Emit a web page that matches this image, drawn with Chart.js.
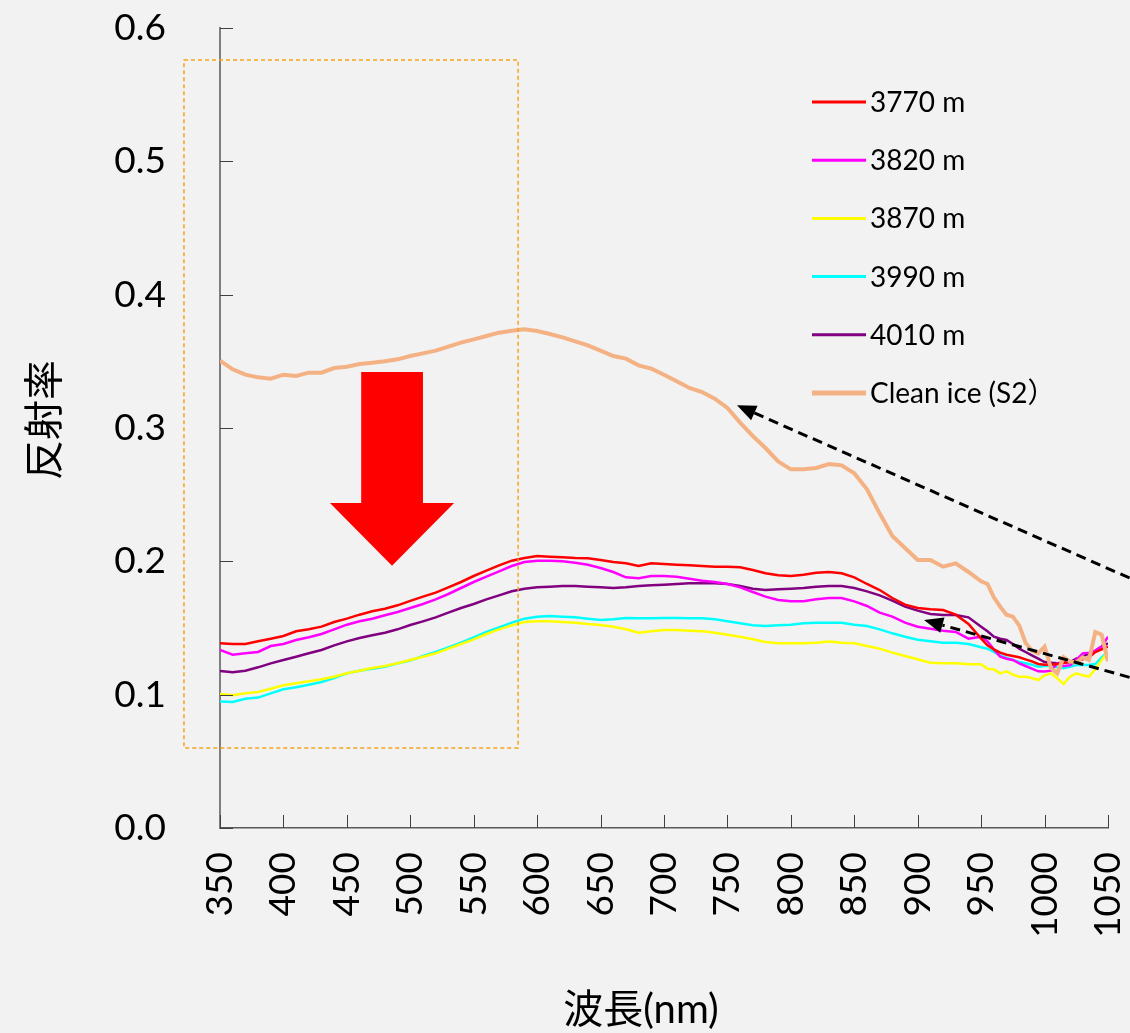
<!DOCTYPE html>
<html>
<head>
<meta charset="utf-8">
<script src="https://cdn.jsdelivr.net/npm/chart.js@4.4.1/dist/chart.umd.min.js"></script>
<style>
    html, body { margin: 0; padding: 0; background: #f2f2f2; }
    #wrap { width: 1130px; height: 1033px; position: relative; }
</style>
</head>
<body>
<div id="wrap"><canvas id="spectraChart"></canvas></div>
<script>
// Wavelength samples (nm)
const wavelengths = [350, 360, 370, 380, 390, 400, 410, 420, 430, 440,
    450, 460, 470, 480, 490, 500, 510, 520, 530, 540,
    550, 560, 570, 580, 590, 600, 610, 620, 630, 640,
    650, 660, 670, 680, 690, 700, 710, 720, 730, 740,
    750, 760, 770, 780, 790, 800, 810, 820, 830, 840,
    850, 860, 870, 880, 890, 900, 910, 920, 930, 940,
    950, 955, 960, 965, 970, 975, 980, 985, 990, 995,
    1000, 1005, 1010, 1015, 1020, 1025, 1030, 1035, 1040, 1045, 1050];

// Reflectance per site
const r3770 = [0.1385, 0.138, 0.138, 0.140, 0.142, 0.144, 0.1475, 0.149, 0.151, 0.1545,
    0.157, 0.160, 0.1625, 0.1645, 0.167, 0.1703, 0.1735, 0.1765, 0.1805, 0.1845,
    0.189, 0.193, 0.197, 0.2005, 0.2025, 0.204, 0.2035, 0.203, 0.2025, 0.2023,
    0.201, 0.1995, 0.1985, 0.1965, 0.1985, 0.198, 0.1975, 0.197, 0.1965, 0.196,
    0.196, 0.1955, 0.1935, 0.191, 0.1895, 0.189, 0.190, 0.1915, 0.192, 0.191,
    0.188, 0.183, 0.1785, 0.1725, 0.1675, 0.165, 0.164, 0.1635, 0.160, 0.153,
    0.142, 0.137, 0.134, 0.1315, 0.130, 0.129, 0.128, 0.1265, 0.125, 0.123,
    0.1225, 0.1225, 0.123, 0.124, 0.1245, 0.125, 0.1265, 0.128, 0.132, 0.134, 0.136];

const r3820 = [0.1335, 0.130, 0.131, 0.132, 0.1365, 0.138, 0.141, 0.143, 0.1455, 0.149,
    0.1525, 0.155, 0.157, 0.1595, 0.162, 0.165, 0.168, 0.1715, 0.1755, 0.180,
    0.1845, 0.1885, 0.1925, 0.1965, 0.1995, 0.2005, 0.2005, 0.200, 0.199, 0.1975,
    0.195, 0.192, 0.188, 0.1873, 0.189, 0.189, 0.1885, 0.187, 0.1855, 0.1845,
    0.183, 0.1805, 0.177, 0.1735, 0.171, 0.170, 0.170, 0.1715, 0.1725, 0.1725,
    0.170, 0.1665, 0.1615, 0.1585, 0.154, 0.151, 0.1495, 0.148, 0.147, 0.142,
    0.1435, 0.140, 0.134, 0.1285, 0.127, 0.126, 0.1235, 0.1215, 0.1195, 0.1175,
    0.1173, 0.118, 0.1235, 0.1215, 0.122, 0.126, 0.131, 0.1315, 0.133, 0.136, 0.1435];

const r3870 = [0.1005, 0.0995, 0.101, 0.102, 0.1045, 0.107, 0.1085, 0.110, 0.1115, 0.1135,
    0.116, 0.118, 0.120, 0.1215, 0.1235, 0.126, 0.1285, 0.131, 0.1345, 0.138,
    0.1415, 0.1455, 0.149, 0.152, 0.1545, 0.155, 0.155, 0.1545, 0.154, 0.153,
    0.1523, 0.151, 0.149, 0.1465, 0.1475, 0.1485, 0.1485, 0.148, 0.1475, 0.1465,
    0.145, 0.1435, 0.1415, 0.1395, 0.1385, 0.1385, 0.1385, 0.139, 0.1398, 0.139,
    0.1385, 0.1365, 0.1345, 0.1315, 0.129, 0.1265, 0.124, 0.1235, 0.1235, 0.1228,
    0.1228, 0.1195, 0.119, 0.116, 0.1175, 0.115, 0.1135, 0.1135, 0.1125, 0.111,
    0.1145, 0.116, 0.1123, 0.108, 0.1135, 0.116, 0.1145, 0.1135, 0.119, 0.126, 0.1323];

const r3990 = [0.0948, 0.0945, 0.097, 0.0978, 0.101, 0.104, 0.1055, 0.1075, 0.1095, 0.1125,
    0.116, 0.118, 0.1195, 0.121, 0.1235, 0.1255, 0.129, 0.132, 0.1355, 0.139,
    0.143, 0.147, 0.1505, 0.154, 0.157, 0.1585, 0.159, 0.1585, 0.158, 0.157,
    0.156, 0.1565, 0.1575, 0.1573, 0.1573, 0.1575, 0.1575, 0.1573, 0.1573, 0.1565,
    0.155, 0.1535, 0.152, 0.1515, 0.152, 0.1525, 0.1535, 0.154, 0.154, 0.154,
    0.1525, 0.1515, 0.149, 0.146, 0.1435, 0.1412, 0.140, 0.139, 0.139, 0.138,
    0.1355, 0.1345, 0.132, 0.1295, 0.1275, 0.126, 0.1245, 0.1235, 0.1225, 0.121,
    0.1215, 0.1215, 0.1205, 0.1198, 0.121, 0.1223, 0.1223, 0.1223, 0.123, 0.128, 0.1323];

const r4010 = [0.1178, 0.1168, 0.118, 0.1205, 0.1235, 0.126, 0.1285, 0.131, 0.1335, 0.137,
    0.140, 0.1425, 0.1445, 0.1465, 0.149, 0.1522, 0.155, 0.158, 0.1615, 0.165,
    0.168, 0.1715, 0.1745, 0.1775, 0.1795, 0.1805, 0.181, 0.1815, 0.1815, 0.181,
    0.1805, 0.180, 0.1805, 0.1815, 0.182, 0.1825, 0.183, 0.1835, 0.1835, 0.1835,
    0.183, 0.1815, 0.1795, 0.1785, 0.179, 0.1795, 0.180, 0.181, 0.1815, 0.1815,
    0.180, 0.1775, 0.1745, 0.1705, 0.166, 0.163, 0.1605, 0.1598, 0.1598, 0.158,
    0.151, 0.1475, 0.1435, 0.142, 0.141, 0.138, 0.1345, 0.132, 0.1295, 0.127,
    0.1245, 0.124, 0.1235, 0.124, 0.1245, 0.127, 0.1285, 0.131, 0.133, 0.136, 0.1385];

const rCleanIce = [0.3505, 0.344, 0.340, 0.338, 0.337, 0.340, 0.339, 0.3415, 0.3415, 0.345,
    0.346, 0.348, 0.349, 0.350, 0.3515, 0.354, 0.356, 0.358, 0.361, 0.364,
    0.3665, 0.369, 0.3715, 0.373, 0.374, 0.3728, 0.3705, 0.368, 0.365, 0.362,
    0.358, 0.354, 0.352, 0.347, 0.3445, 0.340, 0.335, 0.330, 0.327, 0.322,
    0.315, 0.304, 0.294, 0.285, 0.275, 0.269, 0.269, 0.270, 0.273, 0.272,
    0.266, 0.254, 0.236, 0.219, 0.210, 0.201, 0.201, 0.196, 0.1985, 0.192,
    0.185, 0.183, 0.173, 0.166, 0.160, 0.1585, 0.152, 0.139, 0.133, 0.131,
    0.136, 0.120, 0.116, 0.128, 0.125, 0.124, 0.128, 0.126, 0.147, 0.145, 0.125];

const seriesLabels = ['3770 m', '3820 m', '3870 m', '3990 m', '4010 m', 'Clean ice (S2）'];
const seriesColors = ['#ff0000', '#ff00ff', '#ffff00', '#00ffff', '#800080', '#f4b183'];
const seriesValues = [r3770, r3820, r3870, r3990, r4010, rCleanIce];

const xTicks = [350, 400, 450, 500, 550, 600, 650, 700, 750, 800, 850, 900, 950, 1000, 1050];
const yTicks = [0, 0.1, 0.2, 0.3, 0.4, 0.5, 0.6];

const FONT = 'Lato, "Noto Sans CJK JP", sans-serif';

// Extra drawing: inner tick marks, highlight box, arrows, legend, axis titles
const decorations = {
    id: 'decorations',
    afterDraw(chart) {
        const ctx = chart.ctx;
        const xs = chart.scales.x;
        const ys = chart.scales.y;
        const area = chart.chartArea;
        const px = v => xs.getPixelForValue(v);
        const py = v => ys.getPixelForValue(v);

        ctx.save();

        // tick marks pointing into the plot
        ctx.strokeStyle = '#404040';
        ctx.lineWidth = 1;
        xTicks.forEach(t => {
            const x = Math.round(px(t)) + 0.5;
            ctx.beginPath();
            ctx.moveTo(x, area.bottom);
            ctx.lineTo(x, area.bottom - 13);
            ctx.stroke();
        });
        yTicks.forEach(t => {
            const y = Math.round(py(t)) + 0.5;
            ctx.beginPath();
            ctx.moveTo(area.left, y);
            ctx.lineTo(area.left + 13, y);
            ctx.stroke();
        });

        // dashed orange box around the visible range
        ctx.strokeStyle = '#f5a31a';
        ctx.lineWidth = 1.5;
        ctx.setLineDash([4, 3]);
        const bx1 = px(321.6), bx2 = px(585), by1 = py(0.576), by2 = py(0.06);
        ctx.strokeRect(bx1, by1, bx2 - bx1, by2 - by1);
        ctx.setLineDash([]);

        // big red arrow
        const cx = px(485.6);
        ctx.fillStyle = '#ff0000';
        ctx.beginPath();
        ctx.moveTo(px(461.3), py(0.342));
        ctx.lineTo(px(510), py(0.342));
        ctx.lineTo(px(510), py(0.2438));
        ctx.lineTo(px(534.5), py(0.2438));
        ctx.lineTo(cx, py(0.1967));
        ctx.lineTo(px(436.7), py(0.2438));
        ctx.lineTo(px(461.3), py(0.2438));
        ctx.closePath();
        ctx.fill();

        // dashed pointer arrows
        function pointer(fromX, fromY, toX, toY) {
            const x1 = px(fromX), y1 = py(fromY), x2 = px(toX), y2 = py(toY);
            const ang = Math.atan2(y2 - y1, x2 - x1);
            const headLen = 19, headW = 8;
            const bx = x2 - headLen * Math.cos(ang), by = y2 - headLen * Math.sin(ang);
            ctx.strokeStyle = '#000000';
            ctx.lineWidth = 3;
            ctx.setLineDash([10, 6]);
            ctx.beginPath();
            ctx.moveTo(x1, y1);
            ctx.lineTo(bx, by);
            ctx.stroke();
            ctx.setLineDash([]);
            ctx.fillStyle = '#000000';
            ctx.beginPath();
            ctx.moveTo(x2, y2);
            ctx.lineTo(bx + headW * Math.sin(ang), by - headW * Math.cos(ang));
            ctx.lineTo(bx - headW * Math.sin(ang), by + headW * Math.cos(ang));
            ctx.closePath();
            ctx.fill();
        }
        pointer(1067, 0.1875, 757.5, 0.317);
        pointer(1067, 0.113, 905, 0.156);

        // legend
        ctx.font = '28px ' + FONT;
        ctx.textBaseline = 'middle';
        ctx.textAlign = 'left';
        seriesLabels.forEach((label, i) => {
            const y = 102 + i * 58.2;
            ctx.strokeStyle = seriesColors[i];
            ctx.lineWidth = i === 5 ? 5 : 3;
            ctx.beginPath();
            ctx.moveTo(812, y);
            ctx.lineTo(866, y);
            ctx.stroke();
            ctx.fillStyle = '#000000';
            ctx.fillText(label, 870, y + 1);
        });

        // axis titles
        ctx.fillStyle = '#000000';
        ctx.font = '40px ' + FONT;
        ctx.textAlign = 'center';
        ctx.textBaseline = 'middle';
        ctx.fillText('波長(nm)', 641, 1010);
        ctx.save();
        ctx.translate(45, 420);
        ctx.rotate(-Math.PI / 2);
        ctx.fillText('反射率', 0, 0);
        ctx.restore();

        ctx.restore();
    }
};

// keep the scale boxes at fixed sizes and stop them from padding the plot area
function fixBox(scale, size) {
    if (scale.isHorizontal()) {
        scale.height = size;
    } else {
        scale.width = size;
    }
    scale.paddingTop = 0;
    scale.paddingBottom = 0;
    scale.paddingLeft = 0;
    scale.paddingRight = 0;
}

function initSpectraChart() {
    const ctx = document.getElementById('spectraChart').getContext('2d');

    const datasets = seriesLabels.map((label, i) => ({
        label: label,
        data: wavelengths.map((w, j) => ({ x: w, y: seriesValues[i][j] })),
        borderColor: seriesColors[i],
        borderWidth: i === 5 ? 4 : 2.5,
        pointRadius: 0,
        tension: 0,
        fill: false,
        order: i === 5 ? -1 : 0
    }));

    new Chart(ctx, {
        type: 'line',
        data: { datasets: datasets },
        options: {
            responsive: true,
            maintainAspectRatio: false,
            animation: false,
            layout: {
                padding: { top: 28, right: 22, left: 0, bottom: 0 }
            },
            plugins: {
                legend: { display: false },
                tooltip: { enabled: false }
            },
            scales: {
                x: {
                    type: 'linear',
                    min: 350,
                    max: 1050,
                    afterBuildTicks: scale => {
                        scale.ticks = xTicks.map(v => ({ value: v }));
                    },
                    afterFit: scale => fixBox(scale, 205),
                    grid: { display: false },
                    border: { display: true, color: '#595959', width: 1.5 },
                    ticks: {
                        minRotation: 90,
                        maxRotation: 90,
                        padding: 16,
                        color: '#000000',
                        font: { family: FONT, size: 37 },
                        callback: function(value) {
                            return String(value);
                        }
                    }
                },
                y: {
                    min: 0,
                    max: 0.6,
                    afterBuildTicks: scale => {
                        scale.ticks = yTicks.map(v => ({ value: v }));
                    },
                    afterFit: scale => fixBox(scale, 220),
                    grid: { display: false },
                    border: { display: true, color: '#7f7f7f', width: 2 },
                    ticks: {
                        padding: 46,
                        color: '#000000',
                        font: { family: FONT, size: 37 },
                        callback: function(value) {
                            return value.toFixed(1);
                        }
                    }
                }
            }
        },
        plugins: [decorations]
    });
}

document.addEventListener('DOMContentLoaded', function() {
    initSpectraChart();
});
</script>
</body>
</html>
